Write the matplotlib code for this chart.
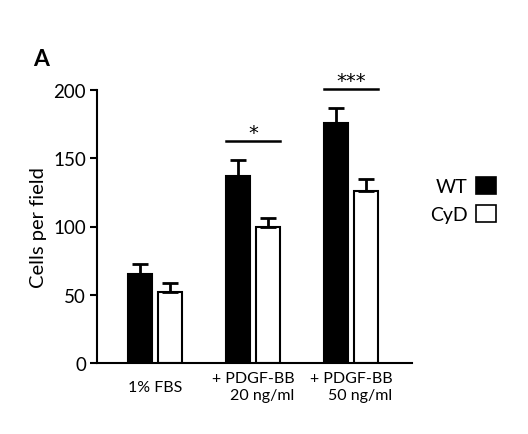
import numpy as np
import matplotlib.pyplot as plt
from matplotlib.patches import Patch

plt.rcParams['font.family'] = ['Lato', 'DejaVu Sans']

groups = ['1% FBS', '+ PDGF-BB\n20 ng/ml', '+ PDGF-BB\n50 ng/ml']
wt = [65, 137, 176]
wt_err = [7.5, 12, 10.5]
cyd = [52, 100, 126]
cyd_err = [6.5, 6, 9]
sig_levels = [163, 201]
sig_marks = ['*', '***']

fig = plt.figure(figsize=(5.28, 4.35), dpi=100)
ax = fig.add_axes([97/528, 1 - 364/435, (412 - 97)/528, (364 - 91)/435])

x = np.arange(len(groups))
w = 0.245
off = 0.155
ekw = dict(elinewidth=2, capsize=5.5, capthick=2, ecolor='black')
ax.bar(x - off, wt, w, color='black', edgecolor='black', linewidth=1.5,
       yerr=[np.zeros(3), wt_err], error_kw=ekw, label='WT')
ax.bar(x + off, cyd, w, color='white', edgecolor='black', linewidth=1.5,
       yerr=[np.zeros(3), cyd_err], error_kw=ekw, label='CyD')

# significance bars
for i, (lvl, mark) in enumerate(zip(sig_levels, sig_marks)):
    xi = i + 1
    ax.plot([xi - off - w/2, xi + off + w/2], [lvl, lvl], color='black',
            lw=1.8, clip_on=False)
    ax.text(xi, lvl - 1, mark, ha='center', va='bottom', fontsize=14,
            family='DejaVu Sans', clip_on=False)

ax.set_xlim(-0.59, 2.62)
ax.set_ylim(0, 200)
ax.set_yticks([0, 50, 100, 150, 200])
ax.set_xticks(x)
ax.set_xticklabels(groups, fontsize=11.5, va='center', multialignment='right',
                   linespacing=1.25)
ax.tick_params(axis='x', length=0, pad=17)
ax.tick_params(axis='y', length=5, width=1.5, labelsize=13.5, pad=3)
ax.spines['top'].set_visible(False)
ax.spines['right'].set_visible(False)
ax.spines['left'].set_linewidth(1.5)
ax.spines['bottom'].set_linewidth(1.5)
ax.set_ylabel('Cells per field', fontsize=14.5, labelpad=4)

handles = [Patch(facecolor='black', edgecolor='black', lw=1.2),
           Patch(facecolor='white', edgecolor='black', lw=1.2)]
fig.legend(handles, ['WT', 'CyD'], loc='upper left',
           bbox_to_anchor=(430/528, 1 - 178/435), frameon=False,
           markerfirst=False, fontsize=14, handlelength=1.0,
           handleheight=1.0, handletextpad=0.45, labelspacing=0.5,
           borderpad=0, borderaxespad=0)

fig.text(33/528, 1 - 66/435, 'A', fontsize=16.5, fontweight='bold')

plt.savefig('out.png', dpi=100)
